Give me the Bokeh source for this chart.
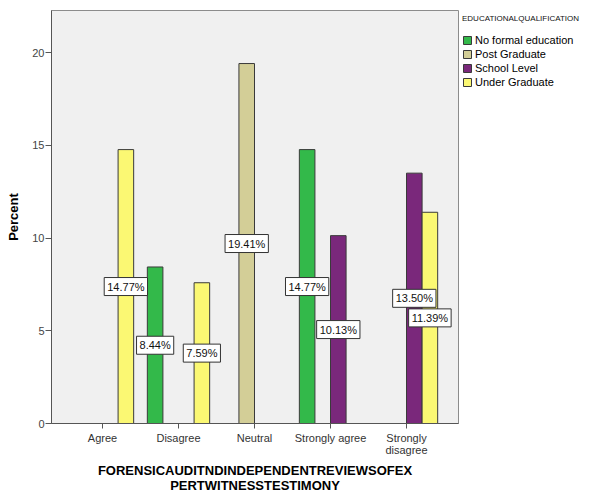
from bokeh.plotting import figure
from bokeh.models import (ColumnDataSource, Range1d, FixedTicker, Legend, LegendItem,
                          Label)
from bokeh.embed import file_html
from bokeh.resources import INLINE

categories = ["Agree", "Disagree", "Neutral", "Strongly agree", "Strongly disagree"]
tick_labels = ["Agree", "Disagree", "Neutral", "Strongly agree", "Strongly\ndisagree"]
series_names = ["No formal education", "Post Graduate", "School Level", "Under Graduate"]
no_formal = [0, 8.44, 0, 14.77, 0]
post_grad = [0, 0, 19.41, 0, 0]
school_level = [0, 0, 0, 10.13, 13.50]
under_grad = [14.77, 7.59, 0, 0, 11.39]
colors = ["#33b94a", "#d3ce97", "#7a287b", "#fbf873"]
legend_title = "EDUCATIONALQUALIFICATION"
x_title = "FORENSICAUDITNDINDEPENDENTREVIEWSOFEX\nPERTWITNESSTESTIMONY"
y_title = "Percent"

FONT = "Liberation Sans"
p = figure(frame_width=407, frame_height=413, output_backend="svg", toolbar_location=None,
           x_range=Range1d(-0.671, 4.684), y_range=Range1d(0, 22.27),
           min_border_left=51, min_border_right=125, min_border_top=10,
           min_border_bottom=60)
p.background_fill_color = "#f0f0f0"
p.border_fill_color = "white"
p.outline_line_color = "#8c8c8c"
p.grid.visible = False

bar_w = 0.205
all_series = [no_formal, post_grad, school_level, under_grad]
items = []
for k, (name, vals, col) in enumerate(zip(series_names, all_series, colors)):
    xs, ys = [], []
    for i, v in enumerate(vals):
        if v > 0:
            xs.append(i + (k - 1.5) * bar_w)
            ys.append(v)
    src = ColumnDataSource(dict(x=xs, top=ys))
    r = p.vbar(x="x", top="top", bottom=0, width=bar_w, source=src,
               fill_color=col, line_color="#3a3a3a", line_width=1)
    items.append((name, r, xs, ys))

for name, r, xs, ys in items:
    for x, y in zip(xs, ys):
        p.add_layout(Label(x=x, y=y / 2, text="%.2f%%" % y, text_align="center",
                           text_baseline="middle", text_font=FONT, text_font_size="11px",
                           text_color="#111111", background_fill_color="white",
                           border_line_color="#333333", border_line_width=1, padding=3))

# axes
p.xaxis.ticker = FixedTicker(ticks=list(range(len(categories))))
p.xaxis.major_label_overrides = {i: t for i, t in enumerate(tick_labels)}
p.xaxis.minor_tick_line_color = None
p.xaxis.major_tick_out = 5
p.xaxis.major_tick_in = 0
p.xaxis.major_label_standoff = 3
p.xaxis.major_label_text_font = FONT
p.xaxis.major_label_text_font_size = "11px"
p.xaxis.major_label_text_color = "#333333"
p.xaxis.major_label_text_line_height = 1.0
p.xaxis.axis_line_color = "#555555"
p.xaxis.major_tick_line_color = "#555555"
p.xaxis.axis_label = x_title
p.xaxis.axis_label_text_font = FONT
p.xaxis.axis_label_text_font_size = "13px"
p.xaxis.axis_label_text_font_style = "bold"
p.xaxis.axis_label_text_color = "black"
p.xaxis.axis_label_text_line_height = 1.0
p.xaxis.axis_label_standoff = 4

p.yaxis.ticker = FixedTicker(ticks=[0, 5, 10, 15, 20])
p.yaxis.minor_tick_line_color = None
p.yaxis.major_tick_out = 6
p.yaxis.major_tick_in = 0
p.yaxis.major_label_standoff = 1
p.yaxis.major_label_text_font = FONT
p.yaxis.major_label_text_font_size = "11px"
p.yaxis.major_label_text_color = "#444444"
p.yaxis.axis_line_color = "#555555"
p.yaxis.major_tick_line_color = "#555555"
p.yaxis.axis_label = y_title
p.yaxis.axis_label_text_font = FONT
p.yaxis.axis_label_text_font_size = "13px"
p.yaxis.axis_label_text_font_style = "bold"
p.yaxis.axis_label_text_color = "black"
p.yaxis.axis_label_standoff = 8

legend = Legend(items=[LegendItem(label=n, renderers=[r]) for n, r, xs, ys in items],
                title=legend_title, title_text_font=FONT, title_text_font_size="8px",
                title_text_font_style="normal", title_text_color="#111111",
                title_standoff=10,
                location="top_left", margin=4, padding=0, spacing=0,
                glyph_width=10, glyph_height=10, label_height=14, label_standoff=3,
                label_text_font=FONT, label_text_font_size="11px",
                label_text_color="black", border_line_alpha=0,
                background_fill_alpha=0)
p.add_layout(legend, "right")

open("out.html", "w").write(file_html(p, INLINE))
